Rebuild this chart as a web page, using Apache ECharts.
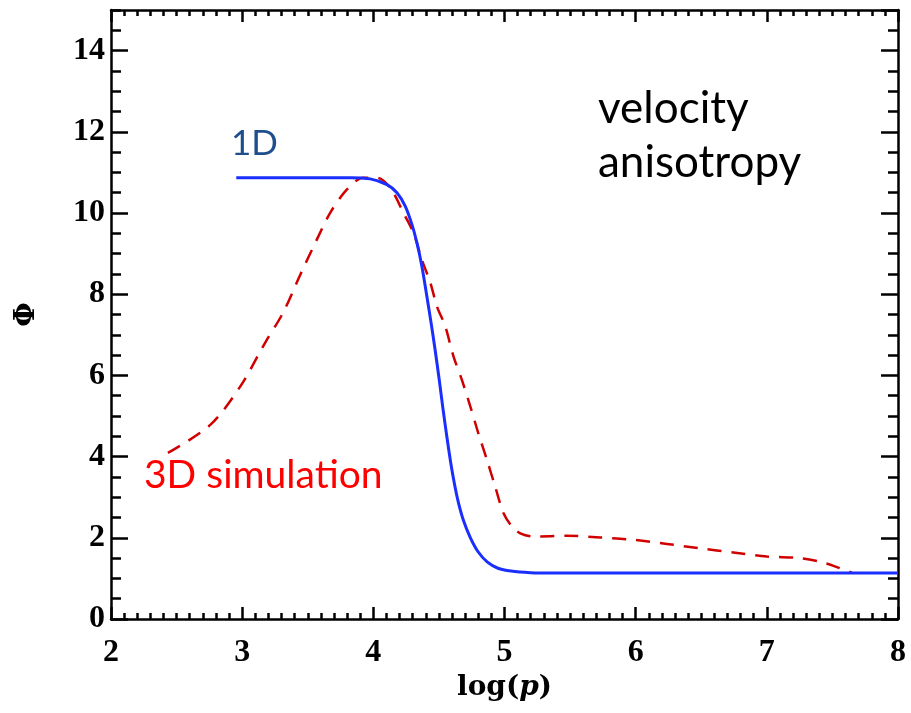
<!DOCTYPE html>
<html>
<head>
<meta charset="utf-8">
<script src="https://cdn.jsdelivr.net/npm/echarts@6/dist/echarts.min.js"></script>
<style>
html,body{margin:0;padding:0;background:#fff;}
#chart{width:911px;height:713px;}
</style>
</head>
<body>
<div id="chart"></div>
<script>
// 1D model curve (blue solid)
const blueX = [2.955, 3.5, 3.824, 3.976, 4.104, 4.18, 4.243, 4.294, 4.332, 4.37, 4.408, 4.44, 4.47, 4.50, 4.53, 4.56, 4.59, 4.62, 4.65, 4.69, 4.74, 4.80, 4.87, 4.95, 5.05, 5.2, 5.35, 6.0, 7.0, 8.0];
const blueY = [10.87, 10.87, 10.87, 10.84, 10.70, 10.50, 10.17, 9.72, 9.27, 8.69, 7.95, 7.30, 6.65, 5.95, 5.20, 4.50, 3.85, 3.30, 2.85, 2.40, 2.00, 1.65, 1.40, 1.25, 1.18, 1.14, 1.13, 1.13, 1.13, 1.13];
// 3D simulation curve (red dashed)
const redX = [2.434, 2.757, 2.986, 3.176, 3.313, 3.443, 3.570, 3.672, 3.799, 3.923, 4.027, 4.129, 4.23, 4.306, 4.37, 4.434, 4.485, 4.548, 4.611, 4.675, 4.739, 4.80, 4.866, 4.929, 4.992, 5.056, 5.12, 5.221, 5.476, 5.73, 5.983, 6.238, 6.492, 6.745, 7.0, 7.254, 7.406, 7.508, 7.648];
const redY = [4.09, 4.78, 5.73, 6.81, 7.55, 8.48, 9.35, 10.01, 10.58, 10.87, 10.87, 10.62, 10.0, 9.51, 8.85, 8.29, 7.70, 7.21, 6.47, 5.89, 5.24, 4.58, 3.92, 3.26, 2.61, 2.28, 2.11, 2.03, 2.05, 2.01, 1.95, 1.85, 1.74, 1.64, 1.54, 1.50, 1.41, 1.31, 1.14];

const xMin = 2, xMax = 8, xInterval = 1, xMinorSplit = 10;
const yMin = 0, yMax = 15, yInterval = 2, yMinorInterval = 0.5;

const zip = (xs, ys) => xs.map((x, i) => [x, ys[i]]);

const axisLine = { show: true, onZero: false, lineStyle: { color: '#000', width: 2.5 } };
const tickFont = { fontFamily: 'Liberation Serif', fontWeight: 'bold', fontSize: 32, color: '#000' };

function xAx(pos, labels) {
  return {
    type: 'value', position: pos, min: xMin, max: xMax, interval: xInterval,
    axisLine: axisLine,
    axisTick: { show: true, inside: true, length: 12, lineStyle: { color: '#000', width: 2.5 } },
    minorTick: { show: true, splitNumber: xMinorSplit, length: 6, lineStyle: { color: '#000', width: 2.5 } },
    splitLine: { show: false },
    axisLabel: labels ? Object.assign({ show: true, margin: 18 }, tickFont) : { show: false },
    name: labels ? '{a|log(}{b|p}{a|)}' : '',
    nameLocation: 'middle', nameGap: 34,
    nameTextStyle: {
      rich: {
        a: { fontFamily: 'DejaVu Serif', fontWeight: 'bold', fontSize: 28, color: '#000' },
        b: { fontFamily: 'DejaVu Serif', fontWeight: 'bold', fontStyle: 'italic', fontSize: 28, color: '#000' }
      }
    }
  };
}
function yAxMajor(pos, labels) {
  return {
    type: 'value', position: pos, min: yMin, max: yMax, interval: yInterval,
    axisLine: axisLine,
    axisTick: { show: true, inside: true, length: 17, lineStyle: { color: '#000', width: 2.5 } },
    splitLine: { show: false },
    axisLabel: labels ? Object.assign({ show: true, margin: 6, showMaxLabel: false,
      formatter: v => (v % 2 === 0 ? String(v) : '') }, tickFont) : { show: false },
    name: labels ? 'Φ' : '',
    nameLocation: 'middle', nameGap: 70,
    nameTextStyle: { fontFamily: 'DejaVu Serif', fontWeight: 'bold', fontSize: 28, color: '#000' }
  };
}
function yAxMinor(pos) {
  return {
    type: 'value', position: pos, min: yMin, max: yMax, interval: yMinorInterval,
    axisLine: { show: false, onZero: false },
    axisTick: { show: true, inside: true, length: 10, lineStyle: { color: '#000', width: 2.5 } },
    splitLine: { show: false },
    axisLabel: { show: false }
  };
}

const chart = echarts.init(document.getElementById('chart'), null, { renderer: 'canvas' });
chart.setOption({
  animation: false,
  backgroundColor: '#fff',
  grid: { left: 111, right: 13, top: 10, bottom: 94, containLabel: false },
  xAxis: [xAx('bottom', true), xAx('top', false)],
  yAxis: [yAxMajor('left', true), yAxMajor('right', false), yAxMinor('left'), yAxMinor('right')],
  series: [
    {
      type: 'line', name: '3D simulation', xAxisIndex: 0, yAxisIndex: 0,
      data: zip(redX, redY), showSymbol: false, smooth: 0.3,
      lineStyle: { color: '#d00000', width: 2.5, type: [14, 10] }
    },
    {
      type: 'line', name: '1D', xAxisIndex: 0, yAxisIndex: 0,
      data: zip(blueX, blueY), showSymbol: false, smooth: 0.3,
      lineStyle: { color: '#1a2eff', width: 3 }
    }
  ],
  graphic: [
    { type: 'text', left: 598, top: 82, style: { text: 'velocity\nanisotropy', font: '44px Lato', fill: '#000', lineHeight: 54 } },
    { type: 'text', left: 231, top: 126, style: { text: '1D', font: '35px Lato', fill: '#1f4e8c' } },
    { type: 'text', left: 144, top: 456, style: { text: '3D simulation', font: '39px Lato', fill: '#ff0000' } }
  ]
});
</script>
</body>
</html>
